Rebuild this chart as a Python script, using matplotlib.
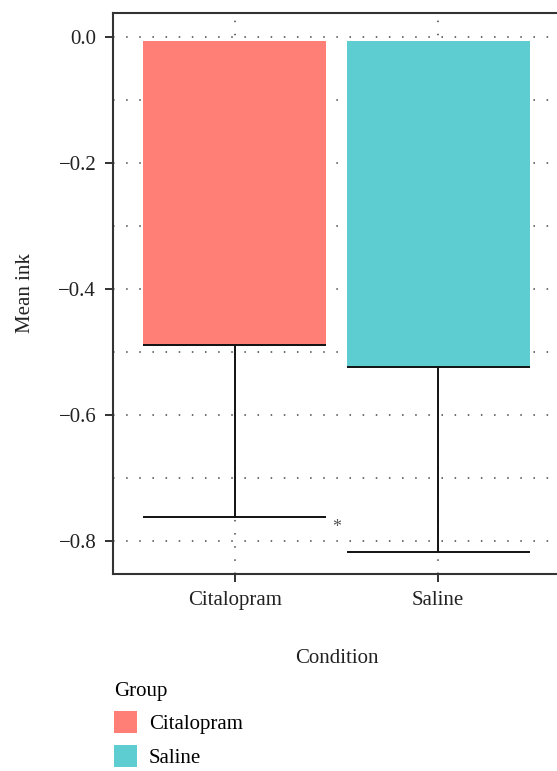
import matplotlib
matplotlib.use("Agg")
import matplotlib.pyplot as plt
from matplotlib.patches import Patch
import numpy as np

plt.rcParams['font.family'] = ['Liberation Serif', 'DejaVu Serif']

# data
groups = ['Citalopram', 'Saline']
mean_ink = [-0.489, -0.524]
lower_ci = [-0.762, -0.817]
bar_top = [-0.006, -0.006]
colors = ['#FF7F77', '#5ECDD1']
star_y = -0.779
yticks = [0.0, -0.2, -0.4, -0.6, -0.8]
grid_y = np.round(np.arange(0.0, -0.85, -0.1), 1)

fig = plt.figure(figsize=(5.57, 7.71), dpi=100)
ax = fig.add_axes([113 / 557, 1 - 574 / 771, 447 / 557, 561 / 771])

x = np.arange(1, len(groups) + 1)
w = 0.9

# dotted grid
for gy in grid_y:
    ax.axhline(gy, color='#444444', lw=1.1, ls=(0, (1, 7.6)), zorder=0)
for gx in x:
    ax.axvline(gx, color='#444444', lw=1.1, ls=(0, (1, 7.6)), zorder=0)

heights = [m - t for m, t in zip(mean_ink, bar_top)]
ax.bar(x, heights, bottom=bar_top, width=w, color=colors, zorder=2)

# error bars: line at mean, whisker down, cap at lower bound
ax.hlines(mean_ink, x - w / 2, x + w / 2, color='#111111', lw=1.4, zorder=3)
ax.vlines(x, lower_ci, mean_ink, color='#111111', lw=1.4, zorder=3)
ax.hlines(lower_ci, x - w / 2, x + w / 2, color='#111111', lw=1.4, zorder=3)

ax.text(x.mean(), star_y, '*', ha='center', va='center', fontsize=13, color='#555555')

ax.set_xlim(0.4, 2.6)
ax.set_ylim(-0.852, 0.038)
ax.set_xticks(x)
ax.set_xticklabels(groups)
ax.set_yticks(yticks)
ax.set_yticklabels(['0.0', '\u22120.2', '\u22120.4', '\u22120.6', '\u22120.8'])
ax.tick_params(labelsize=15, length=6, width=1.3, pad=6, colors='#222222')

for s in ['left', 'bottom', 'top', 'right']:
    ax.spines[s].set_linewidth(1.5)
    ax.spines[s].set_color('#333333')

ax.set_xlabel('Condition', fontsize=15, labelpad=28, color='#222222')
ax.set_ylabel('Mean ink', fontsize=15, labelpad=17, color='#222222')

handles = [Patch(facecolor=c, edgecolor='none') for c in colors]
leg = fig.legend(handles, groups, title='Group', loc='upper left',
                 bbox_to_anchor=(97 / 557, 1 - 665 / 771), frameon=False,
                 fontsize=15, title_fontsize=15, handlelength=1.1, handleheight=1.25,
                 labelspacing=0.5, handletextpad=0.6, alignment='left', borderpad=0.3)

fig.savefig('out.png', dpi=100)
